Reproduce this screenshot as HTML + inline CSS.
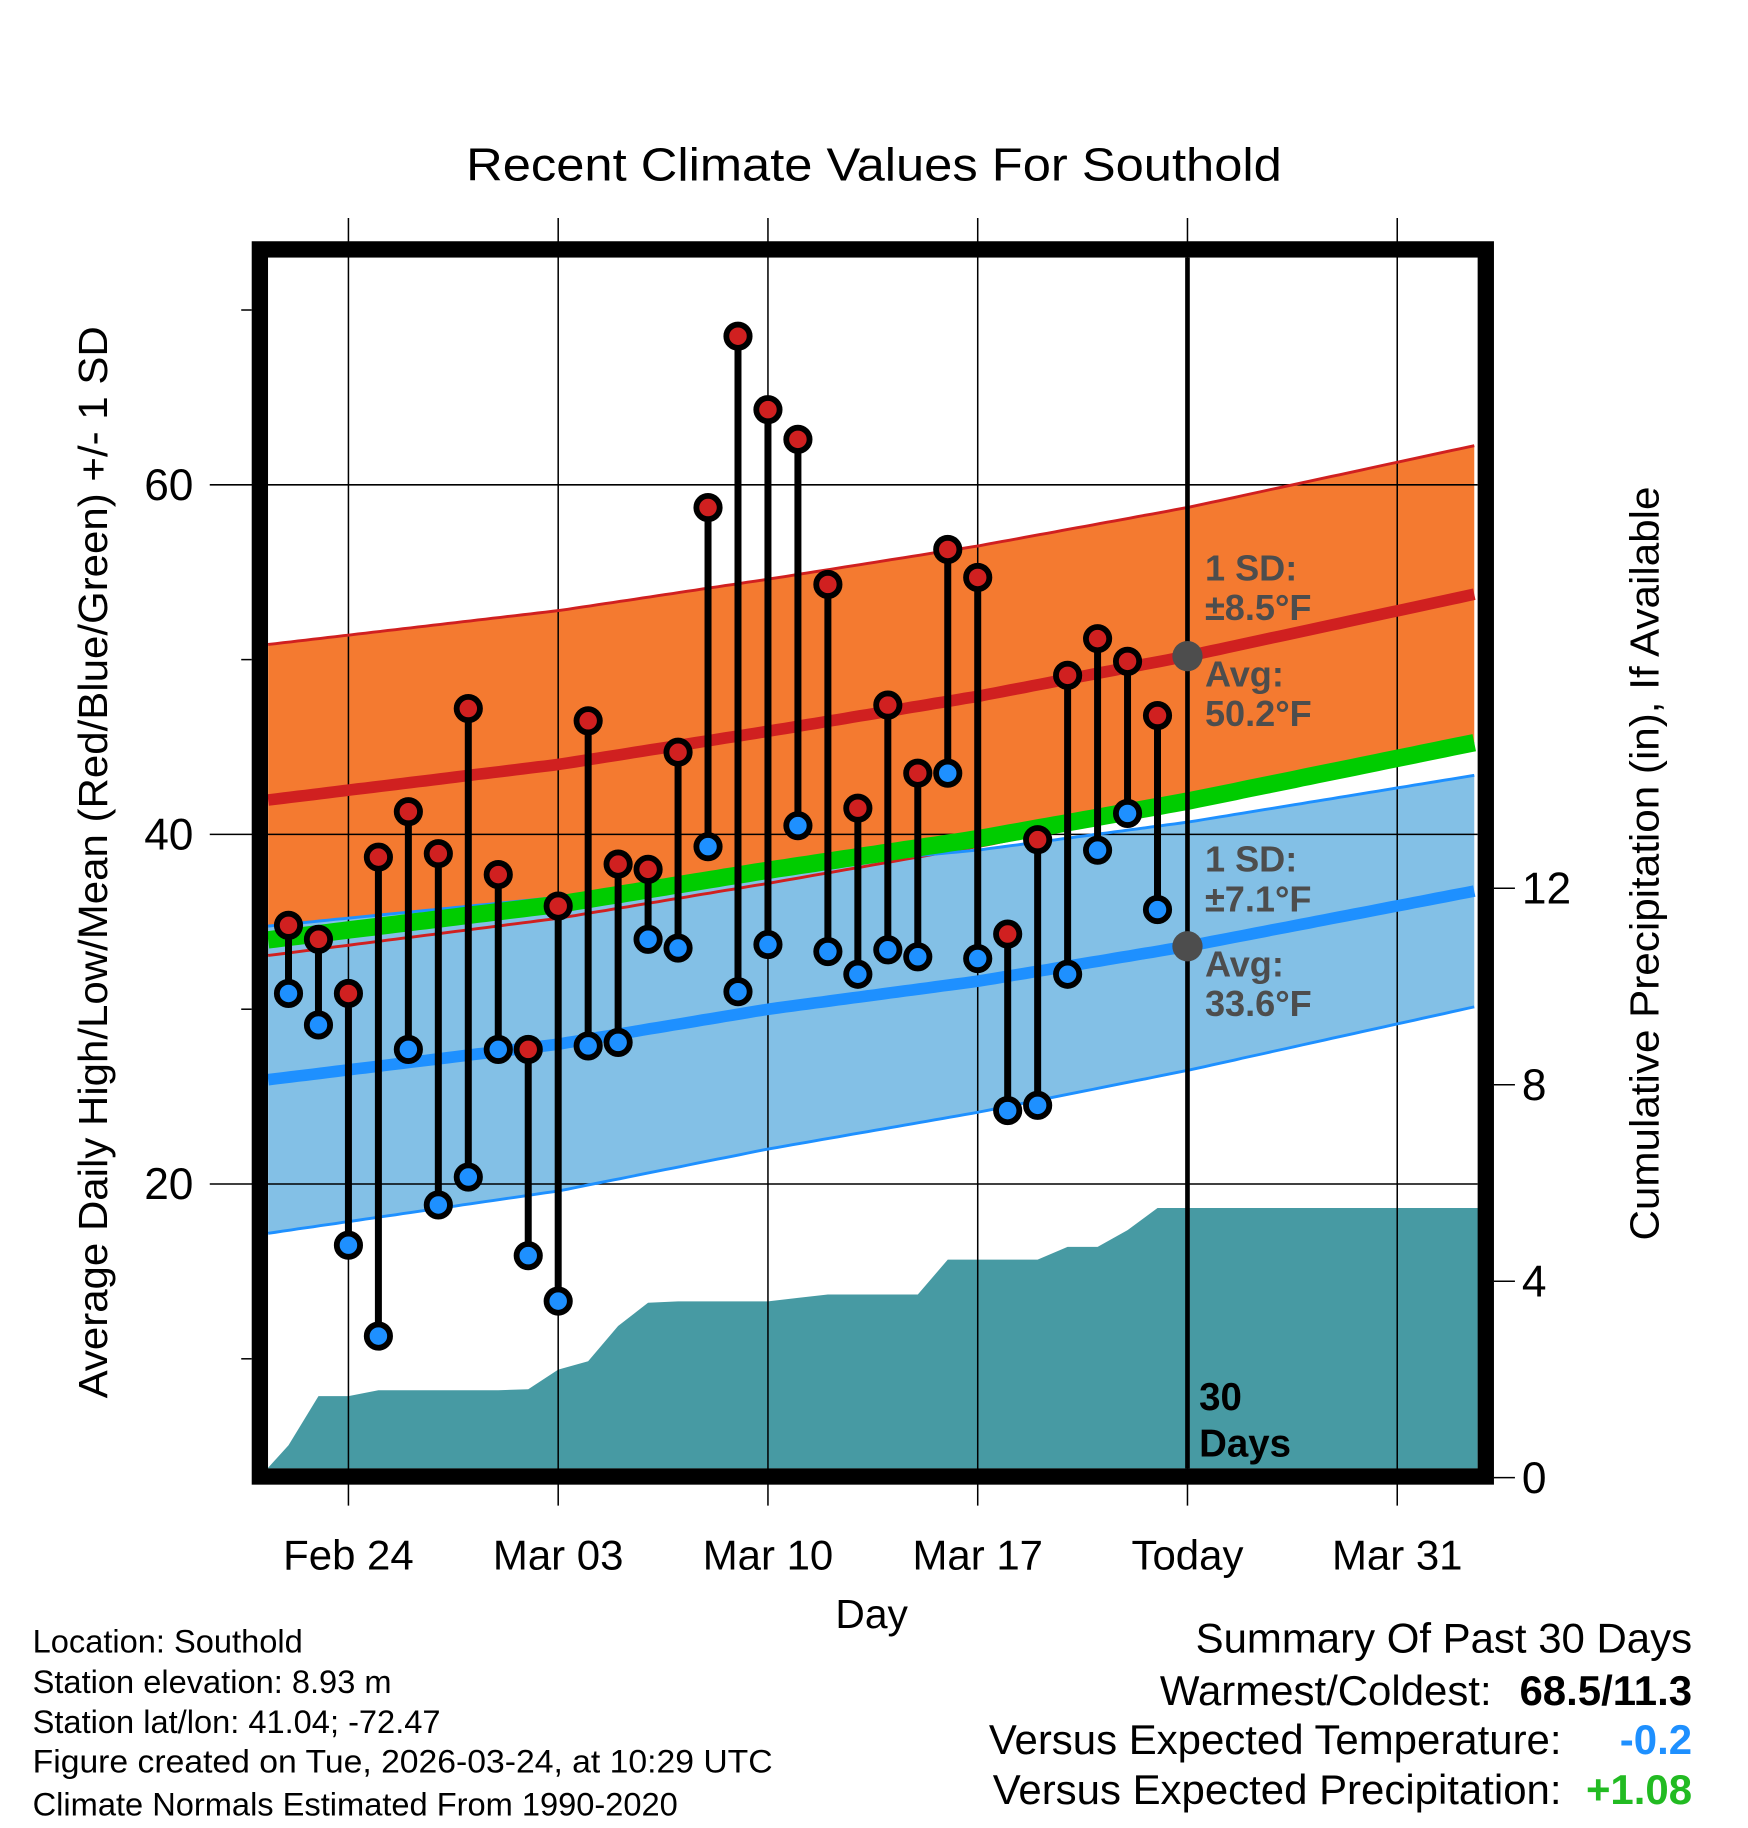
<!DOCTYPE html>
<html><head><meta charset="utf-8"><style>
html,body{margin:0;padding:0;background:#fff;}
svg{display:block;font-family:"Liberation Sans",sans-serif;}
</style></head><body>
<svg id="chart" width="1748" height="1828" viewBox="0 0 1500 1568.6" xmlns="http://www.w3.org/2000/svg">
<rect width="1500" height="1568.6" fill="#fff"/>
<text x="750" y="155" font-size="40" text-anchor="middle" textLength="700" lengthAdjust="spacingAndGlyphs">Recent Climate Values For Southold</text>
<g id="bands"></g>
<g id="precip"></g>
<g id="grid"></g>
<g id="normals"></g>
<g id="obs"></g>
<g id="annot"></g>
<rect x="223" y="214" width="1052" height="1053" fill="none" stroke="#000" stroke-width="14"/>
<g id="axes"></g>
<text transform="translate(92,740) rotate(-90)" font-size="35" text-anchor="middle" textLength="920" lengthAdjust="spacingAndGlyphs">Average Daily High/Low/Mean (Red/Blue/Green) +/- 1 SD</text>
<text transform="translate(1423,741) rotate(-90)" font-size="35" text-anchor="middle" textLength="647" lengthAdjust="spacingAndGlyphs">Cumulative Precipitation (in), If Available</text>
<text x="748" y="1397" font-size="35" text-anchor="middle">Day</text>
<g font-size="28">
<text x="28" y="1418">Location: Southold</text>
<text x="28" y="1453">Station elevation: 8.93 m</text>
<text x="28" y="1487">Station lat/lon: 41.04; -72.47</text>
<text x="28" y="1521" textLength="635" lengthAdjust="spacingAndGlyphs">Figure created on Tue, 2026-03-24, at 10:29 UTC</text>
<text x="28" y="1558">Climate Normals Estimated From 1990-2020</text>
</g>
<g font-size="36">
<text x="1452" y="1418" text-anchor="end">Summary Of Past 30 Days</text>
<text x="1280" y="1463" text-anchor="end">Warmest/Coldest:</text>
<text x="1452" y="1463" text-anchor="end" font-weight="bold">68.5/11.3</text>
<text x="1340" y="1505" text-anchor="end">Versus Expected Temperature:</text>
<text x="1452" y="1505" text-anchor="end" font-weight="bold" fill="#1e90ff">-0.2</text>
<text x="1340" y="1548" text-anchor="end">Versus Expected Precipitation:</text>
<text x="1452" y="1548" text-anchor="end" font-weight="bold" fill="#22bb22">+1.08</text>
</g>
</svg>
<script>
// days relative to Feb 24 = 0
const normDays = [-3, 7, 14, 21, 28, 38];
const normHigh = [41.9, 44.0, 45.9, 47.9, 50.2, 53.9];
const highSD = [8.9, 8.8, 8.7, 8.6, 8.5, 8.5];
const normLow = [25.9, 28.0, 30.0, 31.6, 33.6, 36.9];
const lowSD = [8.8, 8.4, 8.0, 7.5, 7.1, 6.6];
const obsDays = [-2,-1,0,1,2,3,4,5,6,7,8,9,10,11,12,13,14,15,16,17,18,19,20,21,22,23,24,25,26,27];
const obsHigh = [34.8,34.0,30.9,38.7,41.3,38.9,47.2,37.7,27.7,35.9,46.5,38.3,38.0,44.7,58.7,68.5,64.3,62.6,54.3,41.5,47.4,43.5,56.3,54.7,34.3,39.7,49.1,51.2,49.9,46.8];
const obsLow = [30.9,29.1,16.5,11.3,27.7,18.8,20.4,27.7,15.9,13.3,27.9,28.1,34.0,33.5,39.3,31.0,33.7,40.5,33.3,32.0,33.4,33.0,43.5,32.9,24.2,24.5,32.0,39.1,41.2,35.7];
const precipDays = [-2.7,-2,-1,0,1,2,3,4,5,6,7,8,9,10,11,12,13,14,15,16,17,18,19,20,21,22,23,24,25,26,27,37.7];
const precipCum = [0,0.66,1.66,1.66,1.78,1.78,1.78,1.78,1.78,1.80,2.20,2.37,3.09,3.56,3.59,3.59,3.59,3.59,3.66,3.73,3.73,3.73,3.73,4.44,4.44,4.44,4.44,4.70,4.70,5.04,5.49,5.49];
const xTickDays = [0,7,14,21,28,35];
const xTickLabels = ["Feb 24","Mar 03","Mar 10","Mar 17","Today","Mar 31"];
const yTicks = [20,40,60];
const yMinor = [10,30,50,70];
const pTicks = [0,4,8,12];

const NS="http://www.w3.org/2000/svg";
const X0=230,X1=1268,Y0=221,Y1=1260;
const x=d=>299+d*180/7;
const y=t=>716-(t-40)*15;
const yp=p=>1268-p*42.15;
const dMin=-2.68,dMax=37.7;
function mk(tag,attrs,parent){const e=document.createElementNS(NS,tag);for(const k in attrs)e.setAttribute(k,attrs[k]);parent.appendChild(e);return e;}
function interp(arr,d){for(let i=0;i<normDays.length-1;i++){if(d<=normDays[i+1]||i===normDays.length-2){const t=(d-normDays[i])/(normDays[i+1]-normDays[i]);return arr[i]+t*(arr[i+1]-arr[i]);}}}
const samples=[];for(let d=dMin;d<=dMax+0.001;d+=0.25)samples.push(Math.min(d,dMax));
function linePts(f){return samples.map(d=>x(d).toFixed(1)+","+y(f(d)).toFixed(1));}
const hiU=d=>interp(normHigh,d)+interp(highSD,d), hiL=d=>interp(normHigh,d)-interp(highSD,d);
const loU=d=>interp(normLow,d)+interp(lowSD,d), loL=d=>interp(normLow,d)-interp(lowSD,d);
const bands=document.getElementById('bands');
let e=mk('polygon',{points:linePts(hiU).concat(linePts(hiL).reverse()).join(' '),fill:'#f47a30'},bands);


e=mk('polygon',{points:linePts(loU).concat(linePts(loL).reverse()).join(' '),fill:'#83c0e6'},bands);



// precip
const pg=document.getElementById('precip');
let pts=precipDays.map((d,i)=>x(d).toFixed(1)+","+Math.min(Y1,yp(precipCum[i])).toFixed(1));
pts.push(X1+","+Y1);pts.push(X0+","+Y1);
e=mk('polygon',{points:pts.join(' '),fill:'#479aa3'},pg);



// grid
const gg=document.getElementById('grid');
xTickDays.forEach((d,i)=>{
  e=mk('line',{x1:x(d),x2:x(d),y1:187,y2:1292,stroke:'#000','stroke-width':1.3},gg);
  
  
});
yTicks.forEach(t=>{
  e=mk('line',{x1:180,x2:X1,y1:y(t),y2:y(t),stroke:'#000','stroke-width':1.3},gg);
  
  
});

// normal lines
const ng=document.getElementById('normals');
const meanF=d=>(interp(normHigh,d)+interp(normLow,d))/2;
[[hiL,'#d02020',2.5,'high-lower-sd-line'],[loU,'#1e90ff',2.5,'low-upper-sd-line'],[meanF,'#00cc00',15,'mean-normal-line'],[d=>interp(normHigh,d),'#d02020',10,'high-normal-line'],[d=>interp(normLow,d),'#1e90ff',10,'low-normal-line'],[hiU,'#d02020',2.5,'high-upper-sd-line'],[loL,'#1e90ff',2.5,'low-lower-sd-line']].forEach(a=>{
  e=mk('polyline',{points:linePts(a[0]).join(' '),fill:'none',stroke:a[1],'stroke-width':a[2]},ng);
  
  
});
// today line
e=mk('line',{x1:x(28),x2:x(28),y1:Y0,y2:Y1,stroke:'#000','stroke-width':4},ng);



// observations
const og=document.getElementById('obs');
obsDays.forEach((d,i)=>{
  e=mk('line',{x1:x(d),x2:x(d),y1:y(obsHigh[i]),y2:y(obsLow[i]),stroke:'#000','stroke-width':6},og);
  
  
});
obsDays.forEach((d,i)=>{
  e=mk('circle',{cx:x(d),cy:y(obsHigh[i]),r:10,fill:'#d02020',stroke:'#000','stroke-width':5},og);
  
  
  e=mk('circle',{cx:x(d),cy:y(obsLow[i]),r:10,fill:'#1e90ff',stroke:'#000','stroke-width':5},og);
  
  
});

// annotations
const ag=document.getElementById('annot');
[[interp(normHigh,28),'today-high-normal-dot'],[interp(normLow,28),'today-low-normal-dot']].forEach(a=>{
  e=mk('circle',{cx:x(28),cy:y(a[0]),r:13,fill:'#4d4d4d'},ag);
  
  
});
const labs=[["1 SD:",498],["±8.5°F",532],["Avg:",589],["50.2°F",623],["1 SD:",748],["±7.1°F",782],["Avg:",838],["33.6°F",872]];
labs.forEach(l=>{
  e=mk('text',{x:1034,y:l[1],'font-size':31,'font-weight':'bold',fill:'#4d4d4d'},ag);
  e.textContent=l[0];
  
  
});
[["30",1210],["Days",1250]].forEach(l=>{
  e=mk('text',{x:1029,y:l[1],'font-size':33,'font-weight':'bold',fill:'#000'},ag);
  e.textContent=l[0];
  
  
});

// axes ticks/labels
const ax=document.getElementById('axes');
xTickDays.forEach((d,i)=>{
  e=mk('text',{x:x(d),y:1347,'font-size':36,'text-anchor':'middle'},ax);
  e.textContent=xTickLabels[i];
  
  
});
yTicks.forEach(t=>{
  e=mk('text',{x:166,y:y(t)+13,'font-size':38,'text-anchor':'end'},ax);
  e.textContent=t;
  
  
});
yMinor.forEach(t=>{
  e=mk('line',{x1:207,x2:216,y1:y(t),y2:y(t),stroke:'#000','stroke-width':1.3},ax);
  
  
});
pTicks.forEach(p=>{
  e=mk('line',{x1:1282,x2:1300,y1:yp(p),y2:yp(p),stroke:'#000','stroke-width':1.3},ax);
  
  
  e=mk('text',{x:1306,y:yp(p)+13,'font-size':38},ax);
  e.textContent=p;
  
  
});
</script>
</body></html>
